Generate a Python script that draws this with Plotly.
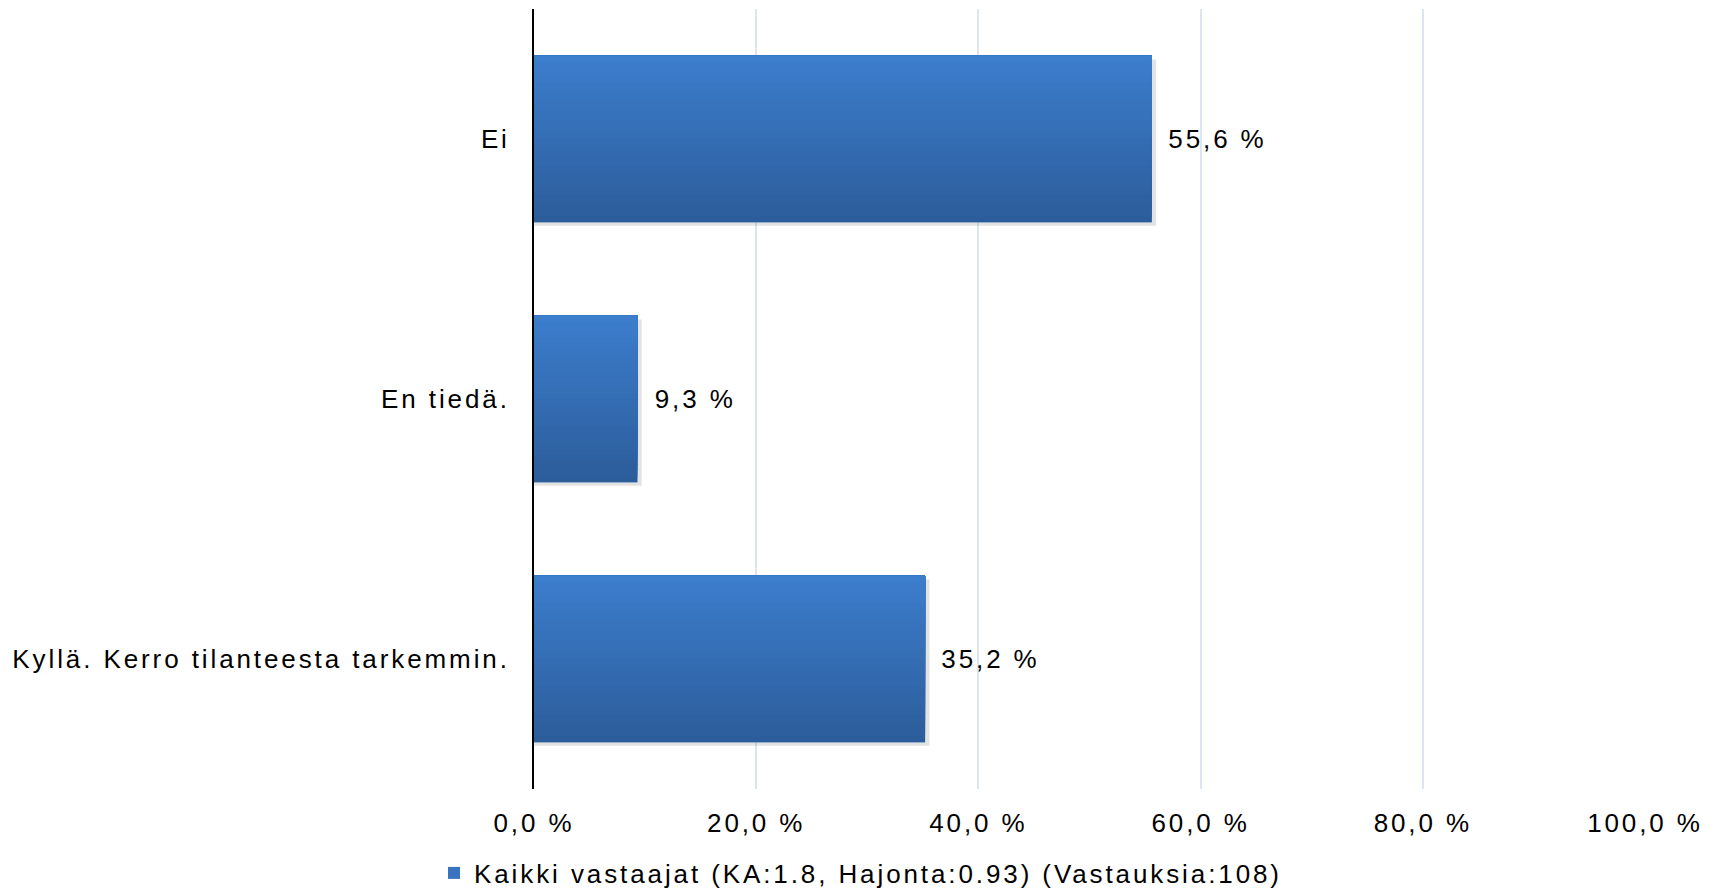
import plotly.graph_objects as go

# ---- data ----
categories = ["Kyllä. Kerro tilanteesta tarkemmin.", "En tiedä.", "Ei"]
values = [35.2, 9.3, 55.6]
value_labels = ["35,2 %", "9,3 %", "55,6 %"]
tick_values = [0, 20, 40, 60, 80, 100]
tick_labels = ["0,0 %", "20,0 %", "40,0 %", "60,0 %", "80,0 %", "100,0 %"]
series_name = "Kaikki vastaajat (KA:1.8, Hajonta:0.93) (Vastauksia:108)"

# ---- style ----
FONT = "Liberation Sans, Arial, sans-serif"
FS = 26
BAR_W = 0.64
TOP_RGB = (60, 125, 204)
BOT_RGB = (44, 93, 155)
N_SLICES = 30

fig = go.Figure()

# soft shadow
fig.add_trace(go.Bar(
    y=categories, x=[v + 0.4 for v in values], orientation="h",
    width=BAR_W, offset=-BAR_W / 2 - 0.014,
    marker=dict(color="rgba(0,0,0,0.11)", line=dict(width=0)),
    showlegend=False, hoverinfo="skip",
))

# base trace (legend entry)
fig.add_trace(go.Bar(
    y=categories, x=values, orientation="h", name=series_name,
    width=BAR_W, offset=-BAR_W / 2,
    marker=dict(color="rgb(56,116,192)", line=dict(width=0)),
    showlegend=True, hoverinfo="skip",
))

# vertical gradient built from stacked overlapping slices (bottom dark -> top light)
for i in range(N_SLICES):
    t = i / (N_SLICES - 1)
    c = tuple(round(BOT_RGB[k] + (TOP_RGB[k] - BOT_RGB[k]) * t) for k in range(3))
    off = -BAR_W / 2 + i * BAR_W / N_SLICES
    fig.add_trace(go.Bar(
        y=categories, x=values, orientation="h",
        width=BAR_W - i * BAR_W / N_SLICES, offset=off,
        marker=dict(color="rgb(%d,%d,%d)" % c, line=dict(width=0)),
        showlegend=False, hoverinfo="skip",
    ))

for cat, v, lab in zip(categories, values, value_labels):
    fig.add_annotation(x=v, y=cat, text=lab, showarrow=False,
                       xanchor="left", yanchor="middle", xshift=23,
                       font=dict(family=FONT, size=FS, color="#000000"))

fig.update_layout(
    width=1717, height=890,
    margin=dict(l=534, r=72, t=9, b=101, autoexpand=False),
    paper_bgcolor="white", plot_bgcolor="white",
    barmode="overlay",
    font=dict(family=FONT, size=FS, color="#000000"),
    showlegend=True,
    legend=dict(orientation="h", xref="container", yref="container",
                x=434 / 1717, xanchor="left", y=17 / 890, yanchor="middle",
                font=dict(family=FONT, size=FS, color="#000000"),
                bgcolor="rgba(0,0,0,0)", itemwidth=30),
    xaxis=dict(range=[0, 100], tickvals=tick_values, ticktext=tick_labels,
               showgrid=True, gridcolor="#DCE6F2", gridwidth=1.5,
               zeroline=False, showline=False, ticks="",
               ticklabelstandoff=16, fixedrange=True),
    yaxis=dict(type="category", categoryorder="array", categoryarray=categories,
               range=[-0.5, 2.5], showgrid=False, zeroline=False,
               showline=True, linecolor="#000000", linewidth=2, ticks="",
               ticklabelstandoff=17, fixedrange=True),
)

post = """
var s = document.createElement('style');
s.textContent = 'html, body { margin: 0; padding: 0; overflow: hidden; } '
  + '.main-svg text { letter-spacing: 2.9px; } '
  + '.legend, .legend * { clip-path: none !important; }';
document.head.appendChild(s);
"""

fig.write_html("out.html", post_script=post, config={"displayModeBar": False})
